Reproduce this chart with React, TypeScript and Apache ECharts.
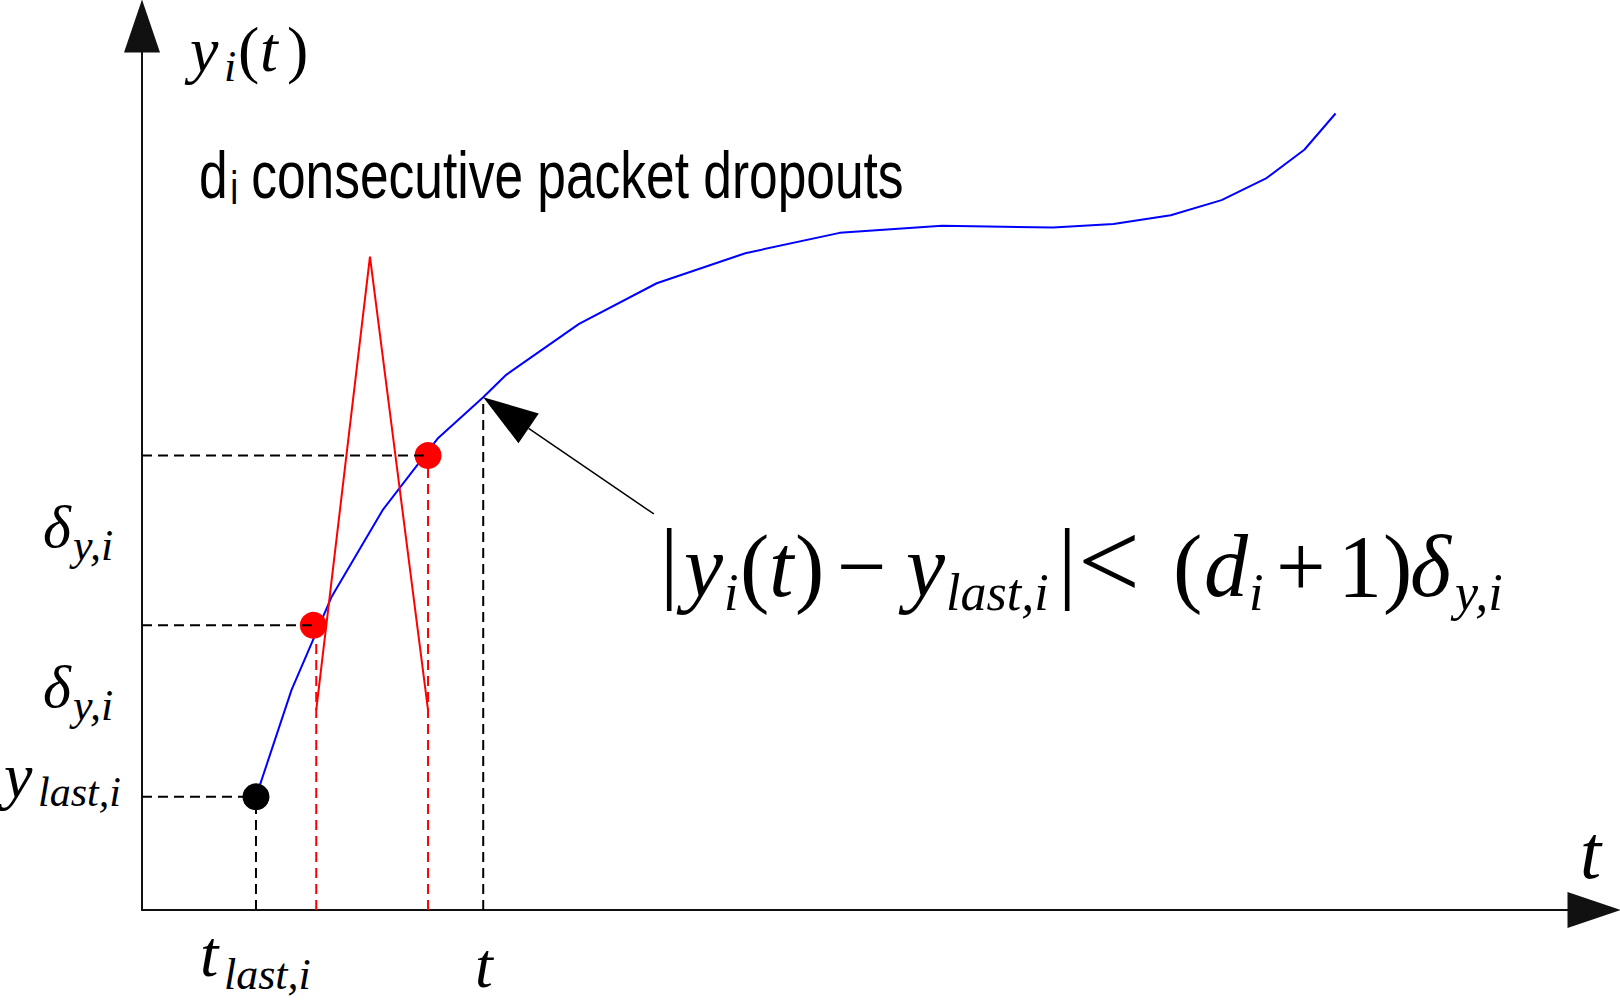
import React, { useEffect, useRef } from 'react';
import * as echarts from 'echarts';

// ---- data (t, y units) ----
const curveT = [1.57, 2.06, 2.61, 3.32, 4.08, 4.70, 5.01, 6.02, 7.09, 8.31, 9.61, 11.02, 12.55, 13.38, 14.17, 14.87, 15.49, 16.01, 16.44];
const curveY = [1.28, 2.49, 3.54, 4.53, 5.34, 5.80, 6.05, 6.63, 7.09, 7.43, 7.66, 7.74, 7.72, 7.76, 7.86, 8.03, 8.28, 8.60, 9.01];

const pulseT = [2.40, 3.14, 3.94];
const pulseY = [2.26, 7.39, 2.26];

const lastT = 1.57;
const lastY = 1.28;

const redT = [2.36, 3.94];
const redY = [3.22, 5.14];
const redDashT = [2.40, 3.94];

const nowT = 4.70;
const nowY = 5.80;

const noteStart = [7.05, 4.48];
const noteEnd = [nowT, nowY];

const SERIF = "'Liberation Serif', 'Times New Roman', serif";
const SANS = "'Liberation Sans', Arial, sans-serif";

function mt(text: string, x: number, base: number, size: number, italic = true, family = SERIF, k = 0.3375) {
  return {
    type: 'text',
    x,
    y: base - k * size,
    silent: true,
    style: {
      text,
      fontSize: size,
      fontFamily: family,
      fontStyle: italic ? 'italic' : 'normal',
      fill: '#000',
      align: 'left',
      verticalAlign: 'middle',
      textAlign: 'left',
      textVerticalAlign: 'middle',
    },
  };
}

function dashedSeries(data: number[][], color: string) {
  return {
    type: 'line',
    data,
    symbol: 'none',
    silent: true,
    z: 4,
    lineStyle: { color, width: 2, type: [10, 6] },
  };
}

export default function App() {
  const ref = useRef<HTMLDivElement>(null);

  useEffect(() => {
    if (!ref.current) return;
    const chart = echarts.init(ref.current, undefined, { renderer: 'svg' });

    const graphic: any[] = [
      // y_i(t)
      mt('y', 190, 71, 64),
      mt('i', 224, 81, 44),
      mt('(', 238, 71, 64, false),
      mt('t', 260, 71, 64),
      mt(')', 287, 71, 64, false),
      // d_i consecutive packet dropouts
      {
        type: 'group',
        x: 199,
        y: 0,
        scaleX: 0.78,
        children: [
          mt('d', 0, 198, 66, false, SANS, 0.3465),
          mt('i', 40, 204, 46, false, SANS, 0.3465),
          mt('consecutive packet dropouts', 67, 198, 66, false, SANS, 0.3465),
        ],
      },
      // left labels
      mt('δ', 43, 547, 60),
      mt('y,i', 73, 560, 44),
      mt('δ', 43, 707, 60),
      mt('y,i', 73, 720, 44),
      mt('y', 4, 797, 64),
      mt('last,i', 38, 806, 42),
      // bottom labels
      mt('t', 200, 976, 66),
      mt('last,i', 224, 989, 44),
      mt('t', 475, 987, 64),
      mt('t', 1580, 878, 76),
      // formula
      mt('|', 660, 592, 92, false),
      mt('y', 684, 596, 88),
      mt('i', 724, 610, 52),
      mt('(', 740, 596, 88, false),
      mt('t', 769, 596, 88),
      mt(')', 795, 596, 88, false),
      mt('\u2212', 837, 596, 88, false),
      mt('y', 906, 596, 88),
      mt('last,i', 946, 610, 52),
      mt('|', 1058, 592, 92, false),
      mt('<', 1078, 598, 110, false),
      mt('(', 1173, 596, 88, false),
      mt('d', 1204, 596, 88),
      mt('i', 1249, 610, 52),
      mt('+', 1276, 596, 88, false),
      mt('1', 1338, 596, 88, false),
      mt(')', 1383, 596, 88, false),
      mt('δ', 1410, 596, 88),
      mt('y,i', 1455, 610, 52),
    ];

    const option: any = {
      animation: false,
      backgroundColor: '#fff',
      grid: { left: 142, right: 26, top: 26, bottom: 90, containLabel: false },
      xAxis: {
        type: 'value',
        min: 0,
        max: 20,
        axisLine: {
          show: true,
          onZero: false,
          symbol: ['none', 'triangle'],
          symbolSize: [36, 53],
          lineStyle: { color: '#111', width: 2 },
        },
        axisTick: { show: false },
        axisLabel: { show: false },
        splitLine: { show: false },
      },
      yAxis: {
        type: 'value',
        min: 0,
        max: 10,
        axisLine: {
          show: true,
          onZero: false,
          symbol: ['none', 'triangle'],
          symbolSize: [36, 53],
          lineStyle: { color: '#111', width: 2 },
        },
        axisTick: { show: false },
        axisLabel: { show: false },
        splitLine: { show: false },
      },
      graphic,
      series: [
        {
          type: 'line',
          data: curveT.map((t, i) => [t, curveY[i]]),
          symbol: 'none',
          silent: true,
          z: 2,
          lineStyle: { color: '#0000ff', width: 2 },
        },
        {
          type: 'line',
          data: pulseT.map((t, i) => [t, pulseY[i]]),
          symbol: 'none',
          silent: true,
          z: 2,
          lineStyle: { color: '#ff0000', width: 2 },
        },
        {
          type: 'scatter',
          data: [[lastT, lastY]],
          symbolSize: 27,
          silent: true,
          z: 3,
          itemStyle: { color: '#000', opacity: 1 },
        },
        {
          type: 'scatter',
          data: redT.map((t, i) => [t, redY[i]]),
          symbolSize: 27,
          silent: true,
          z: 3,
          itemStyle: { color: '#ff0000', opacity: 1 },
        },
        // horizontal guides
        dashedSeries([[0, lastY], [lastT, lastY]], '#000'),
        dashedSeries([[0, redY[0]], [redT[0], redY[0]]], '#000'),
        dashedSeries([[0, redY[1]], [redT[1], redY[1]]], '#000'),
        // vertical guides
        dashedSeries([[lastT, 0], [lastT, lastY]], '#000'),
        dashedSeries([[nowT, 0], [nowT, nowY]], '#000'),
        dashedSeries([[redDashT[0], 0], [redDashT[0], redY[0]]], '#ff0000'),
        dashedSeries([[redDashT[1], 0], [redDashT[1], redY[1]]], '#ff0000'),
        // annotation arrow
        {
          type: 'custom',
          silent: true,
          z: 5,
          data: [[noteStart[0], noteStart[1], noteEnd[0], noteEnd[1]]],
          encode: { x: [0, 2], y: [1, 3] },
          renderItem: (params: any, api: any) => {
            const p1 = api.coord([api.value(0), api.value(1)]);
            const p2 = api.coord([api.value(2), api.value(3)]);
            const dx = p2[0] - p1[0];
            const dy = p2[1] - p1[1];
            const len = Math.sqrt(dx * dx + dy * dy);
            const ux = dx / len;
            const uy = dy / len;
            const headL = 55;
            const headW = 18;
            const bx = p2[0] - ux * headL;
            const by = p2[1] - uy * headL;
            return {
              type: 'group',
              children: [
                {
                  type: 'line',
                  shape: { x1: p1[0], y1: p1[1], x2: bx, y2: by },
                  style: { stroke: '#000', lineWidth: 1.5 },
                },
                {
                  type: 'polygon',
                  shape: {
                    points: [
                      [p2[0], p2[1]],
                      [bx - uy * headW, by + ux * headW],
                      [bx + uy * headW, by - ux * headW],
                    ],
                  },
                  style: { fill: '#000' },
                },
              ],
            };
          },
        },
      ],
    };

    chart.setOption(option);
    return () => chart.dispose();
  }, []);

  return (
    <div
      ref={ref}
      style={{ position: 'fixed', left: 0, top: 0, width: 1620, height: 1000, background: '#fff' }}
    />
  );
}
